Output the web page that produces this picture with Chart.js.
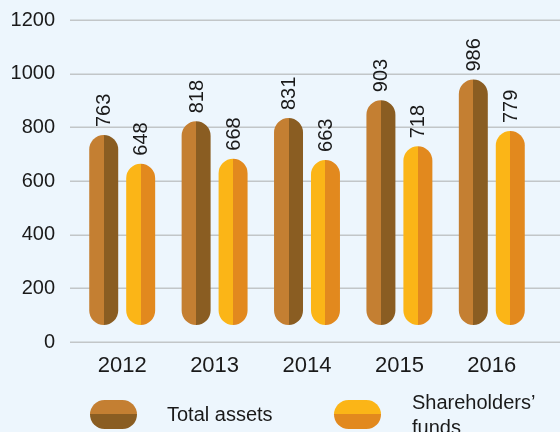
<!DOCTYPE html>
<html>
<head>
<meta charset="utf-8">
<script src="https://cdn.jsdelivr.net/npm/chart.js@4/dist/chart.umd.min.js"></script>
<style>
  html, body { margin: 0; padding: 0; background: #edf6fd; }
  #wrap { position: relative; width: 560px; height: 432px; overflow: hidden; }
  #chart { position: absolute; left: 0; top: 0; }
  .lg-icon { position: absolute; width: 47px; height: 29px; border-radius: 15px; }
  .lg-text { position: absolute; font: 20px "Liberation Sans", Arial, sans-serif; line-height: 25px; color: #1a1a1a; }
</style>
</head>
<body>
<div id="wrap">
  <canvas id="chart" width="560" height="432"></canvas>
  <div class="lg-icon" id="iconTA" style="left:90px; top:400px;"></div>
  <div class="lg-text" style="left:167px; top:402px;">Total assets</div>
  <div class="lg-icon" id="iconSF" style="left:334px; top:400px;"></div>
  <div class="lg-text" style="left:412px; top:390px;">Shareholders’<br>funds</div>
</div>
<script>
// ===============================
// DATA
// ===============================
const years = ["2012", "2013", "2014", "2015", "2016"];
const totalAssets = [763, 818, 831, 903, 986];
const shareholdersFunds = [648, 668, 663, 718, 779];
const yTicks = [0, 200, 400, 600, 800, 1000, 1200];

// ===============================
// COLOURS
// ===============================
const TA_LIGHT = "#c47f32";
const TA_DARK = "#8a5d22";
const SF_LIGHT = "#fbb517";
const SF_DARK = "#e2891e";
const FONT = '"Liberation Sans", Arial, sans-serif';

document.getElementById("iconTA").style.background =
  `linear-gradient(to bottom, ${TA_LIGHT} 50%, ${TA_DARK} 50%)`;
document.getElementById("iconSF").style.background =
  `linear-gradient(to bottom, ${SF_LIGHT} 50%, ${SF_DARK} 50%)`;

// left half light, right half dark
function halfFill(light, dark) {
  return c => {
    const el = c.chart.getDatasetMeta(c.datasetIndex).data[c.dataIndex];
    if (!el || !el.width) return light;
    const g = c.chart.ctx.createLinearGradient(el.x - el.width / 2, 0, el.x + el.width / 2, 0);
    g.addColorStop(0, light);
    g.addColorStop(0.5, light);
    g.addColorStop(0.5, dark);
    g.addColorStop(1, dark);
    return g;
  };
}

// grid lines run a bit past the plot area, like the original
const gridPlugin = {
  id: "wideGrid",
  beforeDatasetsDraw(chart) {
    const ctx = chart.ctx;
    const y = chart.scales.y;
    ctx.save();
    ctx.strokeStyle = "#c2c6c8";
    ctx.lineWidth = 1.5;
    yTicks.forEach(t => {
      const py = Math.round(y.getPixelForValue(t)) + 0.25;
      ctx.beginPath();
      ctx.moveTo(70, py);
      ctx.lineTo(chart.width, py);
      ctx.stroke();
    });
    ctx.restore();
  }
};

// vertical value labels above each bar
const valuePlugin = {
  id: "valueLabels",
  afterDatasetsDraw(chart) {
    const ctx = chart.ctx;
    ctx.save();
    ctx.fillStyle = "#1a1a1a";
    ctx.font = `20px ${FONT}`;
    ctx.textAlign = "left";
    ctx.textBaseline = "middle";
    chart.data.datasets.forEach((ds, di) => {
      chart.getDatasetMeta(di).data.forEach((el, i) => {
        ctx.save();
        ctx.translate(el.x + 1, el.y - 8);
        ctx.rotate(-Math.PI / 2);
        ctx.fillText(String(ds.data[i]), 0, 0);
        ctx.restore();
      });
    });
    ctx.restore();
  }
};

const chart = new Chart(document.getElementById("chart"), {
  type: "bar",
  data: {
    labels: years,
    datasets: [
      {
        label: "Total assets",
        data: totalAssets,
        backgroundColor: halfFill(TA_LIGHT, TA_DARK),
        yAxisID: "yb"
      },
      {
        label: "Shareholders’ funds",
        data: shareholdersFunds,
        backgroundColor: halfFill(SF_LIGHT, SF_DARK),
        yAxisID: "yb"
      }
    ]
  },
  options: {
    responsive: false,
    animation: false,
    events: [],
    categoryPercentage: 0.8,
    barPercentage: 0.784,
    borderRadius: 15,
    borderSkipped: false,
    layout: { padding: { top: 20, right: 22, bottom: 40, left: 0 } },
    plugins: { legend: { display: false }, tooltip: { enabled: false } },
    scales: {
      x: {
        grid: { display: false },
        border: { display: false },
        ticks: { color: "#1a1a1a", font: { family: FONT, size: 22 }, padding: 3 },
        afterFit: s => { s.height = 50; }
      },
      y: {
        min: 0,
        max: 1200,
        grid: { display: false, tickLength: 21 },
        border: { display: false },
        ticks: {
          stepSize: 200,
          color: "#1a1a1a",
          font: { family: FONT, size: 20 },
          padding: 0,
          callback: v => String(v)
        },
        afterFit: s => { s.width = 76; }
      },
      // bars in the original are drawn on their own, slightly smaller scale
      yb: {
        display: false,
        min: -68,
        max: 1225
      }
    }
  },
  plugins: [gridPlugin, valuePlugin]
});
chart.update();
</script>
</body>
</html>
